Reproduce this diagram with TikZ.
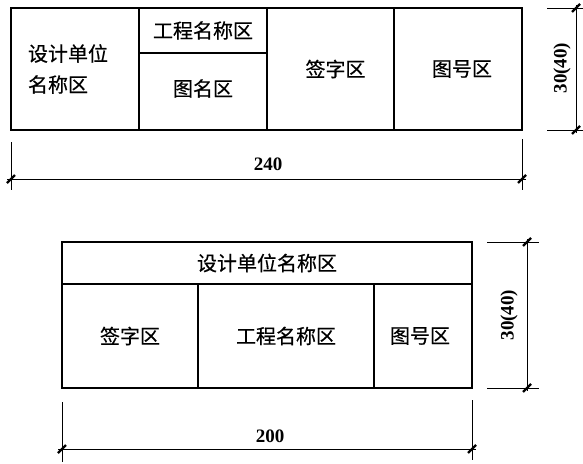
\documentclass[tikz,border=0pt]{standalone}
\usepackage{fontspec}
\setmainfont{Liberation Serif}
\newfontfamily\cjk[BoldFont={Noto Sans CJK SC},BoldFeatures={FakeBold=0.5}]{Noto Sans CJK SC}
\usepackage{tikz}

\tikzset{
  zone/.style={font=\cjk\bfseries\fontsize{20}{31}\selectfont},
  dimtext/.style={font=\bfseries\fontsize{19}{19}\selectfont},
  dimline/.style={line width=1pt},
  slash/.style={line width=2.2pt},
}

\begin{document}
\begin{tikzpicture}[x=1pt,y=-1pt,line width=1.4pt]
  \useasboundingbox (0,0) rectangle (583,463);
  % upper title block, 240 long
  \draw[align=left] (11,8) rectangle node[zone,xshift=-7pt](unitA){设计单位\\名称区} (139,130);
  \draw[] (139,8) rectangle node[zone](projA){工程名称区} (267,53);
  \draw[] (139,53) rectangle node[zone,yshift=3pt](nameA){图名区} (267,130);
  \draw[] (267,8) rectangle node[zone,xshift=5pt](signA){签字区} (394,130);
  \draw[] (394,8) rectangle node[zone,xshift=4pt](numA){图号区} (522,130);

  \draw[dimline] (11,142) -- (11,190);
  \draw[dimline] (522,139) -- (522,190);
  \coordinate (lenA1) at (11,179);
  \coordinate (lenA2) at (522,179);
  \draw[dimline] ([xshift=-4pt]lenA1) -- ([xshift=4pt]lenA2);
  \draw[slash] (lenA1) ++(-4,4) -- ++(8,-8);
  \draw[slash] (lenA2) ++(-4,4) -- ++(8,-8);
  \node[dimtext] (lenAtext) at (268,164) {240};

  \draw[dimline] (547,8) -- (583,8);
  \draw[dimline] (547,130) -- (583,130);
  \coordinate (hgtA1) at (576,8);
  \coordinate (hgtA2) at (576,130);
  \draw[dimline] ([yshift=3pt]hgtA1) -- ([yshift=-3pt]hgtA2);
  \draw[slash] (hgtA1) ++(-4,4) -- ++(8,-8);
  \draw[slash] (hgtA2) ++(-4,4) -- ++(8,-8);
  \node[dimtext,rotate=90] (hgtAtext) at (562,68) {30(40)};

  % lower title block, 200 long
  \draw[] (62,242) rectangle node[zone](unitB){设计单位名称区} (472,284);
  \draw[] (62,284) rectangle node[zone](signB){签字区} (198,388);
  \draw[] (198,284) rectangle node[zone](projB){工程名称区} (374,388);
  \draw[] (374,284) rectangle node[zone,xshift=-3pt](numB){图号区} (472,388);

  \draw[dimline] (62,402) -- (62,462);
  \draw[dimline] (472,400) -- (472,460);
  \coordinate (lenB1) at (62,449);
  \coordinate (lenB2) at (472,449);
  \draw[dimline] ([xshift=-4pt]lenB1) -- ([xshift=4pt]lenB2);
  \draw[slash] (lenB1) ++(-4,4) -- ++(8,-8);
  \draw[slash] (lenB2) ++(-4,4) -- ++(8,-8);
  \node[dimtext] (lenBtext) at (270,436) {200};

  \draw[dimline] (487,242) -- (539,242);
  \draw[dimline] (487,388) -- (539,388);
  \coordinate (hgtB1) at (527,242);
  \coordinate (hgtB2) at (527,388);
  \draw[dimline] ([yshift=3pt]hgtB1) -- ([yshift=-3pt]hgtB2);
  \draw[slash] (hgtB1) ++(-4,4) -- ++(8,-8);
  \draw[slash] (hgtB2) ++(-4,4) -- ++(8,-8);
  \node[dimtext,rotate=90] (hgtBtext) at (509,315) {30(40)};
\end{tikzpicture}
\end{document}
